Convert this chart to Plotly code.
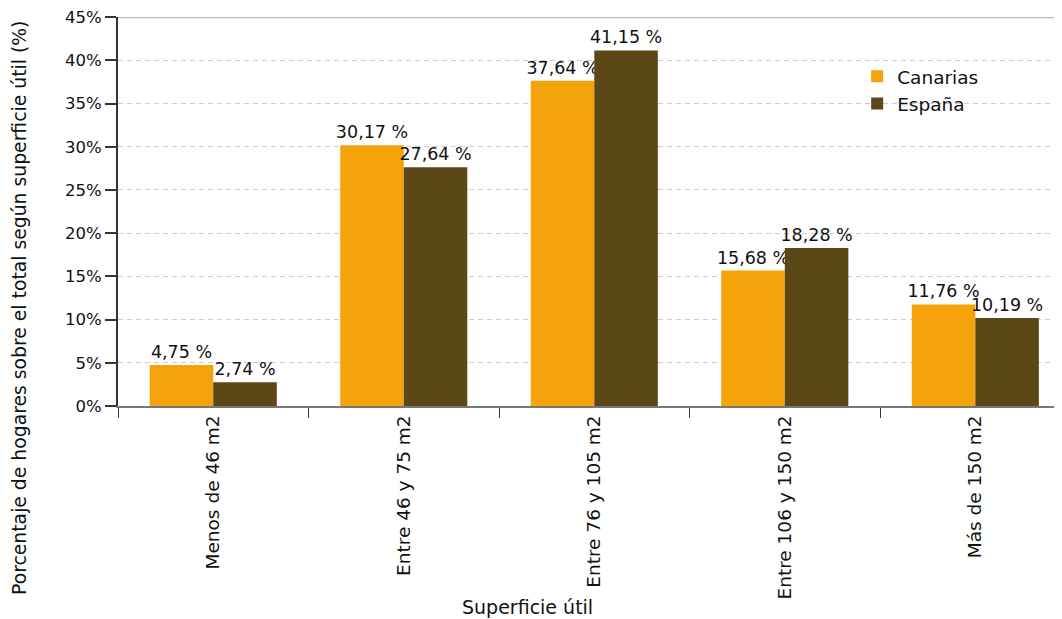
import plotly.graph_objects as go

categories = ["Menos de 46 m2", "Entre 46 y 75 m2", "Entre 76 y 105 m2", "Entre 106 y 150 m2", "Más de 150 m2"]
canarias = [4.75, 30.17, 37.64, 15.68, 11.76]
espana = [2.74, 27.64, 41.15, 18.28, 10.19]
y_ticks = [0, 5, 10, 15, 20, 25, 30, 35, 40, 45]

def fmt(v):
    return f"{v:.2f}".replace(".", ",") + " %"

FAM = "DejaVu Sans"
INK = "#111111"
label_font = dict(family=FAM, size=17.5, color=INK)

fig = go.Figure()
fig.add_trace(go.Bar(name="Canarias", x=categories, y=canarias, marker_color="#F5A30B",
                     marker_line_width=0,
                     text=[fmt(v) for v in canarias], textposition="outside",
                     constraintext="none",
                     textfont=label_font, cliponaxis=False))
fig.add_trace(go.Bar(name="España", x=categories, y=espana, marker_color="#5C4716",
                     marker_line_width=0,
                     text=[fmt(v) for v in espana], textposition="outside",
                     constraintext="none",
                     textfont=label_font, cliponaxis=False))

fig.update_layout(
    width=1054, height=611,
    margin=dict(l=110, r=0, t=9, b=213, autoexpand=False),
    paper_bgcolor="white", plot_bgcolor="white",
    barmode="group", bargap=0.333, bargroupgap=0,
    font=dict(family=FAM, size=16, color=INK),
    legend=dict(x=0.783, y=0.895, xanchor="left", yanchor="top",
                font=dict(family=FAM, size=18.5, color=INK),
                bgcolor="rgba(0,0,0,0)"),
    showlegend=True,
)
fig.update_xaxes(
    range=[-0.5, 4.455], tickson="boundaries", ticks="outside", ticklen=10,
    tickcolor="#333333", tickwidth=1, showline=True, linecolor="#777777", linewidth=2,
    tickangle=-90, tickfont=dict(family=FAM, size=18.5, color=INK), showgrid=False,
    automargin=False,
)
fig.update_yaxes(
    range=[0, 45.02], tickvals=y_ticks, ticktext=[f"{t}%" for t in y_ticks],
    ticks="outside", ticklen=11, tickcolor="#333333", tickwidth=2,
    showline=True, linecolor="#333333", linewidth=2,
    showgrid=True, gridcolor="#cccccc", griddash="5px,4px", gridwidth=1,
    tickfont=dict(family=FAM, size=16.5, color=INK), zeroline=False,
    automargin=False, ticklabeloverflow="allow",
)
fig.add_shape(type="line", xref="paper", yref="y", x0=0, x1=1, y0=45, y1=45,
              line=dict(color="#bbbbbb", width=2))
fig.add_annotation(text="Superficie útil", xref="paper", yref="paper", x=0.434, y=-0.517,
                   xanchor="center", yanchor="middle",
                   showarrow=False, font=dict(family=FAM, size=19, color=INK))
fig.add_annotation(text="Porcentaje de hogares sobre el total según superficie útil (%)",
                   xref="paper", yref="paper", x=-0.1038, y=0.252, textangle=-90,
                   xanchor="center", yanchor="middle",
                   showarrow=False, font=dict(family=FAM, size=18.8, color=INK))

fig.write_html("out.html")
